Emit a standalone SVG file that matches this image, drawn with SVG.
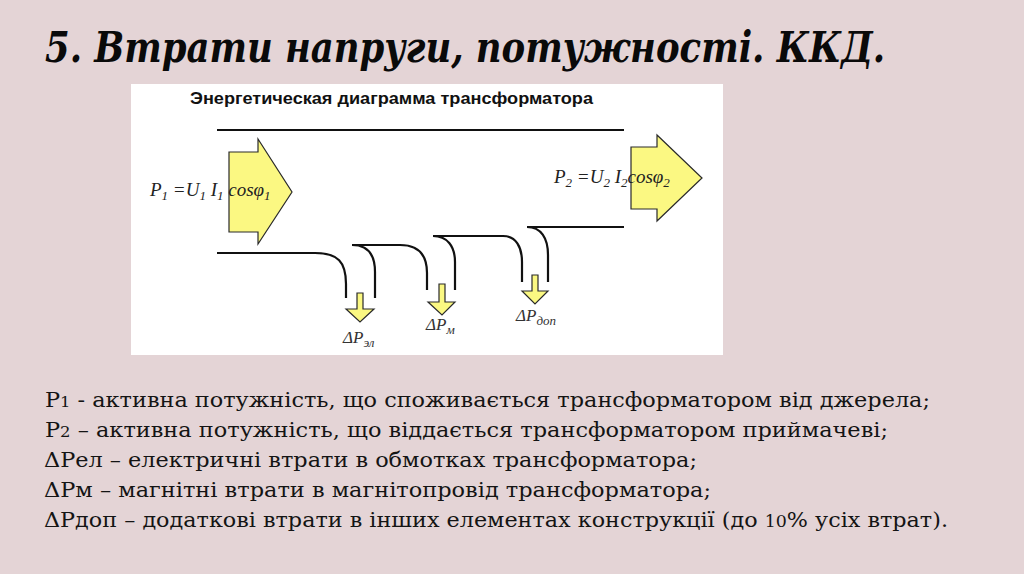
<svg xmlns="http://www.w3.org/2000/svg" width="1024" height="574" viewBox="0 0 1024 574">
  <style>
    .bg { fill: #e4d4d6; }
    .panel { fill: #ffffff; }
    .title { font-family: "DejaVu Serif Condensed", "DejaVu Serif", "Liberation Serif", serif; font-stretch: condensed; font-weight: bold; font-style: italic; font-size: 42px; fill: #0a0a0a; }
    .ptitle { font-family: "Liberation Sans", Arial, sans-serif; font-weight: bold; font-size: 16px; fill: #111; }
    .band { fill: none; stroke: #111; stroke-width: 2.2; stroke-linecap: butt; }
    .arrow { fill: #fbf882; stroke: #2a2a2a; stroke-width: 1.2; stroke-linejoin: miter; }
    .formula { font-family: "Liberation Serif", "Times New Roman", serif; font-style: italic; font-size: 19px; fill: #222; }
    .lbl { font-family: "Liberation Serif", "Times New Roman", serif; font-style: italic; font-size: 17px; fill: #333; }
    .body { font-family: "DejaVu Serif", "Liberation Serif", serif; font-size: 20.5px; fill: #141414; }
  </style>
  <rect class="bg" x="0" y="0" width="1024" height="574"/>

  <g id="heading">
    <text class="title" x="45" y="62" textLength="840" lengthAdjust="spacingAndGlyphs">5. Втрати напруги, потужності. ККД.</text>
  </g>

  <g id="panel">
    <rect class="panel" x="131" y="84" width="592" height="271"/>
    <text class="ptitle" x="190" y="104" textLength="403" lengthAdjust="spacingAndGlyphs">Энергетическая диаграмма трансформатора</text>
  </g>

  <g id="connectors">
    <path class="band" d="M217,130 H624"/>
    <path class="band" d="M217,253 H315 C338,253 346,262 346,284 V298"/>
    <path class="band" d="M352,245 C367,245 375,254 375,272 V298"/>
    <path class="band" d="M352,245 H400 C419,245 427,255 427,273 V290"/>
    <path class="band" d="M433,236 C447,236 455,246 455,262 V290"/>
    <path class="band" d="M433,236 H503 C516,236 522,247 522,262 V282"/>
    <path class="band" d="M527,227 C541,227 548,238 548,255 V282"/>
    <path class="band" d="M527,227 H624"/>
  </g>

  <g id="input-arrow">
    <polygon class="arrow" points="229,152 258,152 258,139 292,192 258,244 258,232 229,232"/>
    <text class="formula" x="150" y="196">P<tspan font-size="13" dy="4">1</tspan><tspan dy="-4"> =U</tspan><tspan font-size="13" dy="4">1</tspan><tspan dy="-4"> I</tspan><tspan font-size="13" dy="4">1</tspan><tspan dy="-4"> cosφ</tspan><tspan font-size="13" dy="4">1</tspan></text>
  </g>

  <g id="output-arrow">
    <polygon class="arrow" points="631,147 657,147 657,135 702,178 657,221 657,209 631,209"/>
    <text class="formula" x="554" y="183">P<tspan font-size="13" dy="4">2</tspan><tspan dy="-4"> =U</tspan><tspan font-size="13" dy="4">2</tspan><tspan dy="-4"> I</tspan><tspan font-size="13" dy="4">2</tspan><tspan dy="-4">cosφ</tspan><tspan font-size="13" dy="4">2</tspan></text>
  </g>

  <g id="loss-el">
    <polygon class="arrow" points="357,293 363,293 363,309 374,309 360,322 346,309 357,309"/>
    <text class="lbl" x="343" y="343">ΔP<tspan font-size="13" dy="4">эл</tspan></text>
  </g>

  <g id="loss-m">
    <polygon class="arrow" points="439,284 445,284 445,302 455,302 442,315 428,302 439,302"/>
    <text class="lbl" x="426" y="330">ΔP<tspan font-size="13" dy="4">м</tspan></text>
  </g>

  <g id="loss-dop">
    <polygon class="arrow" points="532,275 538,275 538,291 548,291 535,304 522,291 532,291"/>
    <text class="lbl" x="516" y="321">ΔP<tspan font-size="13" dy="4">доп</tspan></text>
  </g>

  <g id="legend">
    <text class="body" x="45" y="407" textLength="885" lengthAdjust="spacingAndGlyphs">P<tspan font-size="15">1</tspan> - активна потужність, що споживається трансформатором від джерела;</text>
    <text class="body" x="45" y="437" textLength="843" lengthAdjust="spacingAndGlyphs">P<tspan font-size="15">2</tspan> – активна потужність, що віддається трансформатором приймачеві;</text>
    <text class="body" x="44" y="467" textLength="653" lengthAdjust="spacingAndGlyphs">ΔPел – електричні втрати в обмотках трансформатора;</text>
    <text class="body" x="44" y="497" textLength="667" lengthAdjust="spacingAndGlyphs">ΔPм – магнітні втрати в магнітопровід трансформатора;</text>
    <text class="body" x="44" y="527" textLength="904" lengthAdjust="spacingAndGlyphs">ΔPдоп – додаткові втрати в інших елементах конструкції (до <tspan font-size="16">10</tspan>% усіх втрат).</text>
  </g>
</svg>
